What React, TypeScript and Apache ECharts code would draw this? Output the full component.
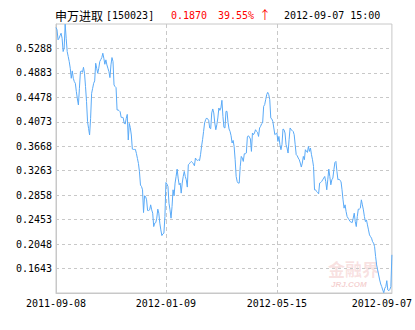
import React, { useEffect, useRef } from "react";
import * as echarts from "echarts";

const titleName = "申万进取";
const titleCode = "[150023]";
const lastPrice = "0.1870";
const changePct = "39.55%";
const changeArrow = "↑";
const lastTime = "2012-09-07 15:00";

const dateLabels = ["2011-09-08", "2012-01-09", "2012-05-15", "2012-09-07"];
const dateLabelIndex = [0, 108, 217, 330];
const gridLineIndex = [108, 217];

const yMin = 0.1238;
const yMax = 0.5693;
const yTicks = [0.1643, 0.2048, 0.2453, 0.2858, 0.3263, 0.3668, 0.4073, 0.4478, 0.4883, 0.5288];

const valuesA = [
  0.5635, 0.5597, 0.5431, 0.5457, 0.5502, 0.554, 0.5457, 0.5237, 0.5291, 0.569,
  0.5457, 0.5237, 0.5154, 0.5071, 0.496, 0.4794, 0.4916, 0.4794, 0.4739, 0.4711,
  0.4573, 0.4452, 0.4352, 0.4628, 0.4905, 0.4916, 0.4893, 0.4976, 0.4877, 0.4656,
  0.4407, 0.4075, 0.3964, 0.3855, 0.413, 0.4545, 0.4628, 0.4711, 0.4751, 0.5043,
  0.496, 0.4877, 0.496, 0.5071, 0.5104, 0.5137, 0.5209, 0.5126, 0.5026, 0.5099,
  0.5016, 0.496, 0.4905, 0.4805, 0.5016, 0.5137, 0.5071, 0.4684, 0.4656, 0.4639,
  0.4269, 0.4269, 0.4258, 0.4241, 0.4147, 0.4147, 0.4142, 0.4047, 0.4037, 0.413,
  0.4196, 0.3772, 0.4047, 0.3976, 0.3855, 0.3622, 0.3616, 0.3616, 0.3616, 0.3549,
  0.3466, 0.3383, 0.3246, 0.3025,
];
const valuesB = [
  0.3002, 0.2947, 0.257, 0.2847, 0.2836, 0.2781, 0.2604, 0.2604, 0.2615, 0.2698,
  0.2615, 0.256, 0.2338, 0.2395, 0.2404, 0.2477, 0.2627, 0.256, 0.2395, 0.2283,
  0.2189, 0.2217, 0.2229, 0.2504, 0.3068, 0.3042, 0.3002, 0.2726, 0.2615, 0.2477,
  0.267, 0.2947, 0.2847, 0.3058, 0.3168, 0.329, 0.3141, 0.303, 0.3058, 0.2892,
  0.3058, 0.3168, 0.3251, 0.3168, 0.3113, 0.2992, 0.3362, 0.3378, 0.34, 0.3417,
  0.34, 0.3378, 0.3345, 0.3473, 0.3445, 0.3433, 0.3445, 0.3428, 0.3528, 0.3665,
  0.3777, 0.3914, 0.4054, 0.4108, 0.4137, 0.412, 0.4097, 0.3971, 0.3959, 0.422,
  0.4286, 0.422, 0.4054, 0.3942, 0.4025, 0.4137, 0.4302, 0.4263, 0.4302, 0.4429,
  0.4163, 0.3981, 0.3971,
];
const valuesC = [
  0.4246, 0.4246, 0.4064, 0.3954, 0.3914, 0.3843, 0.3722, 0.3765, 0.3665, 0.3445,
  0.3168, 0.3085, 0.3058, 0.3058, 0.3334, 0.35, 0.3473, 0.3417, 0.3544, 0.3544,
  0.3556, 0.3821, 0.3843, 0.3821, 0.3788, 0.3583, 0.3888, 0.386, 0.3888, 0.3942,
  0.3914, 0.3898, 0.3831, 0.3971, 0.3997, 0.4042, 0.4054, 0.4329, 0.4357, 0.444,
  0.4523, 0.4561, 0.4523, 0.444, 0.4137, 0.412, 0.408, 0.3971, 0.386, 0.3876,
  0.3888, 0.3748, 0.3831, 0.3694, 0.3611, 0.3694, 0.3954, 0.3942, 0.3888, 0.3694,
  0.3639, 0.3556, 0.3777, 0.3971, 0.3942, 0.3931, 0.3914, 0.386, 0.3694, 0.3528,
  0.3511, 0.3473, 0.3445, 0.339, 0.3324, 0.339, 0.35, 0.3445, 0.3611, 0.3583,
  0.3566,
];
const valuesD = [
  0.3665, 0.3583, 0.3639, 0.3528, 0.3445, 0.3334, 0.2947, 0.2947, 0.2919, 0.2902,
  0.2881, 0.3058, 0.3068, 0.3085, 0.3113, 0.3141, 0.3168, 0.3085, 0.2947, 0.3113,
  0.329, 0.3168, 0.303, 0.3113, 0.3141, 0.3279, 0.34, 0.3417, 0.3251, 0.3113,
  0.3125, 0.3101, 0.3085, 0.2947, 0.2781, 0.2643, 0.2698, 0.2587, 0.2504, 0.2477,
  0.2449, 0.2421, 0.2411, 0.2404, 0.2477, 0.256, 0.2421, 0.2338, 0.2504, 0.2627,
  0.2627, 0.2643, 0.2781, 0.2698, 0.2615, 0.2504, 0.2421, 0.2449, 0.2366, 0.2283,
  0.22, 0.2172, 0.2146, 0.2089, 0.2063, 0.2006, 0.184, 0.1703, 0.162, 0.1537,
  0.1454, 0.1387, 0.1343, 0.1288, 0.1243, 0.1316, 0.1343, 0.1442, 0.1288, 0.1276,
  0.1299, 0.1343, 0.187,
];

const values = [...valuesA, ...valuesB, ...valuesC, ...valuesD];
const categories = values.map((_, i) => {
  const k = dateLabelIndex.indexOf(i);
  return k >= 0 ? dateLabels[k] : "";
});

const MONO = "'DejaVu Sans Mono', 'Liberation Mono', monospace";
const CJK = "'Noto Sans CJK SC', sans-serif";
const GRID = "#c8c8c8";

export default function App() {
  const ref = useRef<HTMLDivElement>(null);
  useEffect(() => {
    document.body.style.margin = "0";
    const chart = echarts.init(ref.current!, null, { renderer: "svg" });
    const lastIdx = values.length - 1;
    chart.setOption({
      animation: false,
      backgroundColor: "#ffffff",
      grid: {
        left: 56,
        right: 23,
        top: 24,
        bottom: 37,
        show: true,
        borderColor: GRID,
        borderWidth: 1,
        backgroundColor: "transparent",
      },
      graphic: [
        { type: "text", left: 55, top: 9, style: { text: titleName, font: `12px ${CJK}`, fill: "#000" } },
        { type: "text", left: 106, top: 10, style: { text: titleCode, font: `10px ${MONO}`, fill: "#000" } },
        { type: "text", left: 171, top: 10, style: { text: lastPrice, font: `10px ${MONO}`, fill: "#ff0000" } },
        { type: "text", left: 218, top: 10, style: { text: changePct, font: `10px ${MONO}`, fill: "#ff0000" } },
        { type: "text", left: 259, top: 8, style: { text: changeArrow, font: `12px ${CJK}`, fill: "#ff0000" } },
        { type: "text", left: 284, top: 10, style: { text: lastTime, font: `10px ${MONO}`, fill: "#000" } },
        {
          type: "text", left: 328, top: 260, z: -1,
          style: { text: "金融界", font: `bold 17px ${CJK}`, fill: "rgba(225,120,120,0.22)" },
        },
        {
          type: "text", left: 331, top: 280, z: -1,
          style: { text: "JRJ.COM", font: `italic bold 8px sans-serif`, fill: "rgba(225,120,120,0.35)" },
        },
      ],
      xAxis: {
        type: "category",
        data: categories,
        boundaryGap: false,
        axisLine: { show: true, lineStyle: { color: GRID } },
        axisTick: { show: false },
        axisLabel: {
          interval: (i: number) => dateLabelIndex.includes(i),
          color: "#000",
          fontFamily: MONO,
          fontSize: 10,
          margin: 5,
          formatter: (v: string, i: number) => (i === lastIdx ? `{r|${v}}` : v),
          rich: { r: { padding: [0, 20, 0, 0], fontFamily: MONO, fontSize: 10, color: "#000" } },
        },
        splitLine: {
          show: true,
          interval: (i: number) => gridLineIndex.includes(i),
          lineStyle: { color: GRID, type: [4, 3], width: 1 },
        },
      },
      yAxis: {
        type: "value",
        min: yMin,
        max: yMax,
        axisLine: { show: true, lineStyle: { color: GRID } },
        axisTick: { show: false, customValues: yTicks },
        axisLabel: {
          customValues: yTicks,
          formatter: (v: number) => v.toFixed(4),
          color: "#000",
          fontFamily: MONO,
          fontSize: 10,
          margin: 4,
        },
        splitLine: { show: true, lineStyle: { color: GRID, type: [3, 3], width: 1 } },
      },
      series: [
        {
          type: "line",
          data: values,
          symbol: "none",
          lineStyle: { color: "#5aaaf7", width: 1 },
          itemStyle: { color: "#5aaaf7" },
        },
      ],
    });
    return () => chart.dispose();
  }, []);
  return <div ref={ref} style={{ width: 415, height: 330 }} />;
}
